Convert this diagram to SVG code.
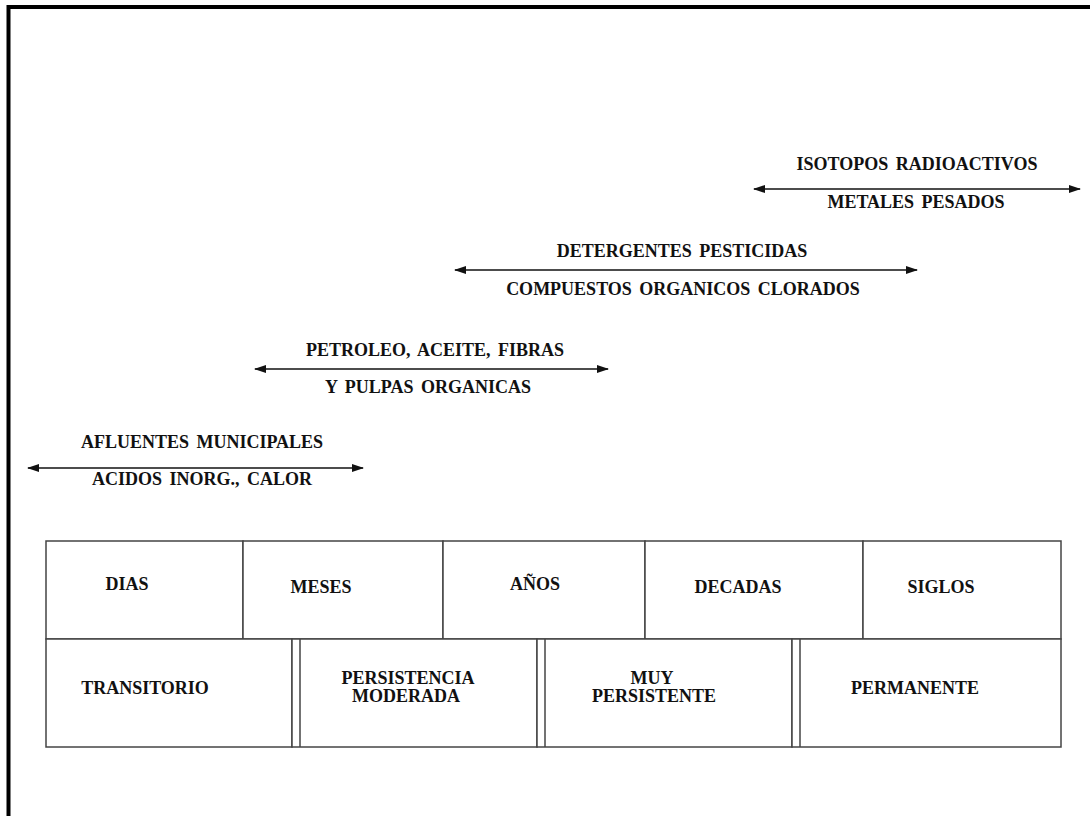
<svg xmlns="http://www.w3.org/2000/svg" width="1090" height="816" viewBox="0 0 1090 816">
<style>
.t{font-family:'Liberation Serif','Times New Roman',serif;font-weight:700;font-size:18px;fill:#111;text-anchor:middle}
.cell{fill:#fff;stroke:#444;stroke-width:1.5}
.arr{stroke:#111;stroke-width:1.6;fill:none;marker-start:url(#ah);marker-end:url(#ah)}
.frame{stroke:#000;stroke-width:4;fill:none}
</style>
<defs>
<marker id="ah" viewBox="0 0 12 8" refX="11" refY="4" markerWidth="12" markerHeight="8" markerUnits="userSpaceOnUse" orient="auto-start-reverse">
<path d="M0,0 L12,4 L0,8 Z" fill="#111"/>
</marker>
</defs>
<rect width="1090" height="816" fill="#fff"/>
<path class="frame" d="M8.5,816 V7 H1090"/>

<g id="connectors">
<line class="arr" x1="754" y1="189" x2="1080" y2="189"/>
<line class="arr" x1="455" y1="270" x2="917" y2="270"/>
<line class="arr" x1="255" y1="369" x2="608" y2="369"/>
<line class="arr" x1="28" y1="468" x2="363" y2="468"/>
</g>

<g id="isotopos">
<text class="t" x="917" y="170" word-spacing="3">ISOTOPOS RADIOACTIVOS</text>
<text class="t" x="916" y="208" word-spacing="3">METALES PESADOS</text>
</g>
<g id="detergentes">
<text class="t" x="682" y="257" word-spacing="3">DETERGENTES PESTICIDAS</text>
<text class="t" x="683" y="295" word-spacing="3">COMPUESTOS ORGANICOS CLORADOS</text>
</g>
<g id="petroleo">
<text class="t" x="435" y="356" word-spacing="3">PETROLEO, ACEITE, FIBRAS</text>
<text class="t" x="428" y="393" word-spacing="3">Y PULPAS ORGANICAS</text>
</g>
<g id="afluentes">
<text class="t" x="202" y="448" word-spacing="3">AFLUENTES MUNICIPALES</text>
<text class="t" x="202" y="485" word-spacing="3">ACIDOS INORG., CALOR</text>
</g>

<g id="dias"><rect class="cell" x="46" y="541" width="197" height="98"/><text class="t" x="127" y="590">DIAS</text></g>
<g id="meses"><rect class="cell" x="243" y="541" width="200" height="98"/><text class="t" x="321" y="593">MESES</text></g>
<g id="anos"><rect class="cell" x="443" y="541" width="202" height="98"/><text class="t" x="535" y="590">AÑOS</text></g>
<g id="decadas"><rect class="cell" x="645" y="541" width="218" height="98"/><text class="t" x="738" y="593">DECADAS</text></g>
<g id="siglos"><rect class="cell" x="863" y="541" width="198" height="98"/><text class="t" x="941" y="593">SIGLOS</text></g>

<g id="transitorio"><rect class="cell" x="46" y="639" width="246" height="108"/><text class="t" x="145" y="694">TRANSITORIO</text></g>
<g id="persistencia-moderada"><rect class="cell" x="292" y="639" width="245" height="108"/><line class="cell" x1="300" y1="639" x2="300" y2="747"/><text class="t" x="408" y="684">PERSISTENCIA</text><text class="t" x="406" y="702">MODERADA</text></g>
<g id="muy-persistente"><rect class="cell" x="537" y="639" width="255" height="108"/><line class="cell" x1="545" y1="639" x2="545" y2="747"/><text class="t" x="652" y="684">MUY</text><text class="t" x="654" y="702">PERSISTENTE</text></g>
<g id="permanente"><rect class="cell" x="792" y="639" width="269" height="108"/><line class="cell" x1="800" y1="639" x2="800" y2="747"/><text class="t" x="915" y="694">PERMANENTE</text></g>
</svg>
